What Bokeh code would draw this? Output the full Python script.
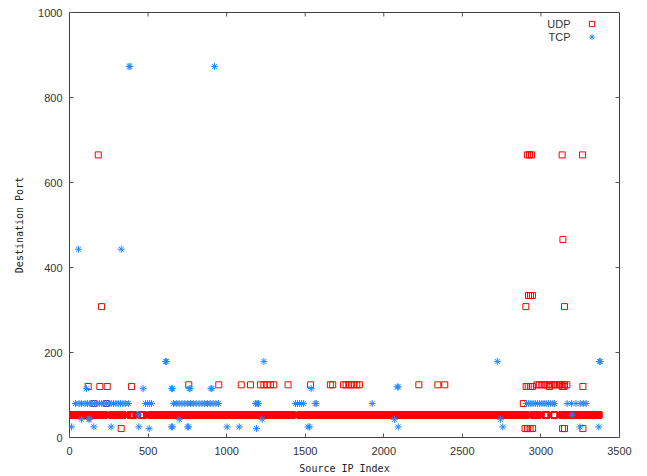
import math
from bokeh.plotting import figure
from bokeh.models import Range1d, FixedTicker, Legend, LegendItem, Label, ColumnDataSource
from bokeh.embed import file_html
from bokeh.resources import INLINE

# ---------------- data ----------------
# UDP port 53: runs of consecutive source indices (start, end)
udp53_runs = [(3, 224), (268, 341), (385, 409), (453, 472), (516, 1421), (1465, 2908),
              (2952, 2982), (3026, 3039), (3083, 3088), (3132, 3370)]

udp_665 = [183, 2914, 2927, 2940, 3135, 3265]
udp_466 = [3140]
udp_334 = [2921, 2934, 2946]
udp_308 = [204, 2904, 3150]
udp_124 = [759, 950, 1093, 1152, 1215, 1237, 1258, 1279, 1300, 1391, 1534, 1660, 1675,
           1744, 1760, 1777, 1794, 1811, 1828, 1845, 2223, 2344, 2388,
           2974, 2990, 3006, 3022, 3038, 3054, 3070, 3086, 3102, 3118, 3134, 3150, 3165]
udp_120 = [119, 193, 240, 395, 2906, 2919, 2933, 2946, 3054, 3135, 3147, 3267]
udp_80 = [155, 235, 2888]
udp_21 = [329, 2899, 2915, 2931, 2947, 3138, 3150, 3267]

tcp_873 = [379, 385, 923]
tcp_443 = [57, 329]
tcp_179 = [612, 618, 1237, 2722, 3372, 3378]
tcp_119 = [2086, 2092]
tcp_115 = [108, 469, 650, 656, 762, 768, 900, 906, 1538]
tcp_80 = [38, 60, 76, 98, 115, 130, 145, 160, 175, 190, 205, 220, 235, 250, 265, 280,
          295, 310, 325, 340, 355, 375,
          484, 497, 510, 522,
          662, 680, 698, 716, 734, 752, 770, 788, 806, 824, 842, 860, 878, 896, 914, 932, 948,
          1184, 1194, 1203,
          1438, 1451, 1464, 1477, 1490,
          1563, 1570, 1926,
          2908, 2922, 2936, 2950, 2964, 2978, 2992, 3006, 3020, 3034, 3048, 3062, 3076, 3086,
          3167, 3195, 3223, 3250, 3270, 3288]
tcp_53 = [441, 3199]
tcp_43 = [76, 123, 129, 698, 1226, 2068, 2743]
tcp_25 = [13, 155, 265, 441, 649, 655, 752, 758, 1003, 1080, 1518, 1528, 2092, 2757, 3248, 3368]
tcp_21 = [507, 1190]

x_ticks = [0, 500, 1000, 1500, 2000, 2500, 3000, 3500]
y_ticks = [0, 200, 400, 600, 800, 1000]

# ---------------- build sources ----------------
ux, uy = [], []
for s, e in udp53_runs:
    for i in range(s, e + 1):
        ux.append(i)
        uy.append(53)
for port, idx in [(665, udp_665), (466, udp_466), (334, udp_334), (308, udp_308),
                  (124, udp_124), (120, udp_120), (80, udp_80), (21, udp_21)]:
    ux += idx
    uy += [port] * len(idx)

tx, ty = [], []
for port, idx in [(873, tcp_873), (443, tcp_443), (179, tcp_179), (119, tcp_119),
                  (115, tcp_115), (80, tcp_80), (53, tcp_53), (43, tcp_43),
                  (25, tcp_25), (21, tcp_21)]:
    tx += idx
    ty += [port] * len(idx)

udp_src = ColumnDataSource(dict(x=ux, y=uy))
tcp_src = ColumnDataSource(dict(x=tx, y=ty))

RED = "#ff0000"
BLUE = "#2288ff"
TICK_FONT = "Liberation Sans"
TXT = "#333333"
TICKC = "#555555"

x0, x1 = 0, 3500
y0, y1 = 0, 1000

p = figure(width=647, height=476, x_range=Range1d(x0, x1), y_range=Range1d(y0, y1),
           output_backend="svg", toolbar_location=None,
           min_border_left=69, min_border_right=28, min_border_top=12, min_border_bottom=39,
           x_axis_label="Source IP Index", y_axis_label="Destination Port")
p.xgrid.visible = False
p.ygrid.visible = False
p.outline_line_color = "#404040"
p.outline_line_width = 1
p.background_fill_color = "white"
p.border_fill_color = "white"

r_udp = p.scatter("x", "y", source=udp_src, marker="square", size=6,
                  fill_color=None, line_color=RED, line_width=1)
r_tcp = p.scatter("x", "y", source=tcp_src, marker="asterisk", size=7,
                  line_color=BLUE, line_width=1)

for ax in list(p.xaxis) + list(p.yaxis):
    ax.axis_line_color = None
    ax.major_tick_in = 4
    ax.major_tick_out = 0
    ax.minor_tick_line_color = None
    ax.major_tick_line_color = TICKC
    ax.major_label_text_font = TICK_FONT
    ax.major_label_text_font_size = "11px"
    ax.major_label_text_color = TXT
    ax.axis_label_text_font = "DejaVu Sans Mono"
    ax.axis_label_text_font_size = "10px"
    ax.axis_label_text_font_style = "normal"
    ax.axis_label_text_color = "#222222"

p.xaxis.ticker = FixedTicker(ticks=x_ticks)
p.yaxis.ticker = FixedTicker(ticks=y_ticks)
p.xaxis.major_label_standoff = 9
p.xaxis.axis_label_standoff = 5
p.yaxis.major_label_standoff = 7
p.yaxis.axis_label_standoff = 10

# mirrored ticks on the top and right edges (gnuplot style)
p.ray(x=x_ticks, y=[y1] * len(x_ticks), length=4, length_units="screen",
      angle=-math.pi / 2, line_color=TICKC, line_width=1)
p.ray(x=[x1] * len(y_ticks), y=y_ticks, length=4, length_units="screen",
      angle=math.pi, line_color=TICKC, line_width=1)

# gnuplot-style key: text first, then the sample
legend = Legend(items=[LegendItem(label=" ", renderers=[r_udp]),
                       LegendItem(label=" ", renderers=[r_tcp])],
                location=(515, 394), orientation="vertical",
                padding=0, margin=0, spacing=0, glyph_width=15, glyph_height=13,
                label_width=0, label_height=13, label_standoff=0,
                label_text_font_size="1px",
                background_fill_alpha=0, border_line_color=None)
p.add_layout(legend, "center")
for txt, yy in [("UDP", 413.7), ("TCP", 401)]:
    p.add_layout(Label(x=501, y=yy, x_units="screen", y_units="screen", text=txt,
                       text_align="right", text_baseline="middle",
                       text_font=TICK_FONT, text_font_size="11px", text_color=TXT))

open("out.html", "w").write(file_html(p, INLINE))
